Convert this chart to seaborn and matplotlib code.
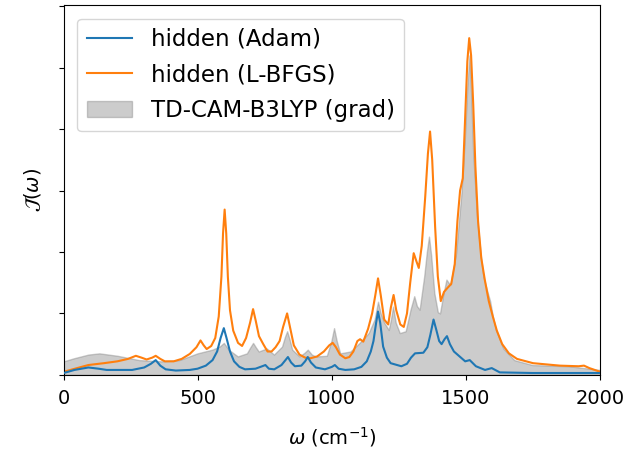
import numpy as np
import pandas as pd
import matplotlib
matplotlib.use("Agg")
import matplotlib.pyplot as plt
import seaborn as sns

# --- data (x in cm^-1, y in tick units) ---
adam_x = [0, 40, 92, 130, 160, 255, 300, 325, 343, 360, 380, 418, 470, 499, 530, 555, 572, 585, 597,
          607, 620, 635, 655, 676, 715, 740, 752, 765, 785, 812, 825, 836, 848, 862, 886, 900, 910,
          922, 940, 974, 1000, 1011, 1025, 1050, 1083, 1110, 1130, 1145, 1155, 1165, 1172, 1180, 1191,
          1205, 1219, 1259, 1280, 1295, 1310, 1341, 1356, 1367, 1379, 1390, 1400, 1409, 1420, 1429,
          1440, 1455, 1476, 1497, 1514, 1537, 1571, 1596, 1626, 1748, 2000]
adam_y = [0.03, 0.08, 0.12, 0.10, 0.08, 0.08, 0.12, 0.18, 0.24, 0.15, 0.09, 0.07, 0.08, 0.10, 0.15, 0.24, 0.38, 0.60, 0.76,
          0.60, 0.38, 0.22, 0.13, 0.09, 0.10, 0.14, 0.16, 0.10, 0.09, 0.16, 0.23, 0.29, 0.20, 0.14, 0.15, 0.22, 0.29,
          0.20, 0.12, 0.09, 0.13, 0.16, 0.10, 0.08, 0.09, 0.13, 0.22, 0.38, 0.55, 0.85, 1.03, 0.85, 0.46,
          0.28, 0.19, 0.14, 0.18, 0.28, 0.35, 0.36, 0.45, 0.65, 0.90, 0.72, 0.55, 0.50, 0.58, 0.63,
          0.50, 0.38, 0.30, 0.22, 0.24, 0.14, 0.08, 0.11, 0.04, 0.03, 0.03]

lbfgs_x = [0, 50, 92, 150, 200, 240, 269, 290, 309, 330, 343, 360, 377, 410, 440, 470, 495, 510, 522,
           533, 550, 565, 578, 588, 594, 600, 606, 612, 620, 632, 650, 665, 680, 695, 706, 716, 728,
           744, 760, 775, 790, 805, 818, 833, 845, 858, 879, 900, 920, 945, 970, 990, 1003, 1015,
           1030, 1050, 1065, 1080, 1095, 1105, 1117, 1135, 1150, 1162, 1172, 1182, 1195, 1210, 1220,
           1230, 1240, 1255, 1268, 1280, 1292, 1305, 1315, 1324, 1335, 1348, 1358, 1366, 1374, 1385,
           1395, 1406, 1418, 1432, 1445, 1458, 1468, 1478, 1488, 1497, 1505, 1512, 1519, 1527, 1535,
           1545, 1557, 1570, 1585, 1600, 1615, 1635, 1660, 1690, 1750, 1850, 1920, 1940, 1960, 2000]
lbfgs_y = [0.05, 0.11, 0.16, 0.19, 0.22, 0.26, 0.31, 0.28, 0.25, 0.28, 0.31, 0.26, 0.22, 0.22, 0.26, 0.34, 0.45, 0.56, 0.48,
           0.42, 0.47, 0.60, 0.95, 1.60, 2.30, 2.69, 2.30, 1.60, 1.05, 0.72, 0.52, 0.47, 0.60, 0.85, 1.07, 0.88, 0.63,
           0.50, 0.38, 0.38, 0.45, 0.55, 0.78, 1.00, 0.75, 0.48, 0.33, 0.28, 0.27, 0.30, 0.38, 0.48, 0.52, 0.45,
           0.33, 0.27, 0.29, 0.38, 0.55, 0.58, 0.54, 0.75, 1.00, 1.30, 1.57, 1.30, 0.90, 0.82, 1.10,
           1.30, 1.05, 0.82, 0.78, 1.00, 1.50, 1.98, 1.85, 1.74, 2.10, 2.90, 3.60, 3.96, 3.50, 2.40,
           1.60, 1.20, 1.35, 1.42, 1.48, 1.80, 2.50, 3.00, 3.20, 4.20, 5.10, 5.48, 5.20, 4.40, 3.40,
           2.50, 1.90, 1.55, 1.20, 0.95, 0.72, 0.50, 0.35, 0.26, 0.19, 0.15, 0.14, 0.15, 0.11, 0.05]

ref_x = [0, 38, 92, 133, 201, 282, 364, 431, 499, 554, 581, 597, 615, 649, 683, 696, 706, 716, 727,
         757, 784, 814, 825, 833, 842, 852, 879, 898, 910, 925, 940, 981, 998, 1008, 1018, 1031, 1069,
         1103, 1137, 1159, 1172, 1182, 1195, 1212, 1220, 1228, 1238, 1253, 1275, 1293, 1307, 1317,
         1327, 1344, 1354, 1362, 1370, 1382, 1395, 1403, 1415, 1427, 1435, 1442, 1463, 1483, 1495,
         1505, 1513, 1519, 1527, 1541, 1555, 1565, 1580, 1590, 1600, 1612, 1639, 1680, 1748, 1883, 2000]
ref_y = [0.22, 0.27, 0.33, 0.35, 0.31, 0.24, 0.22, 0.24, 0.35, 0.41, 0.46, 0.52, 0.41, 0.30, 0.35, 0.45, 0.52, 0.45, 0.38,
         0.43, 0.33, 0.46, 0.62, 0.71, 0.58, 0.41, 0.30, 0.36, 0.41, 0.33, 0.30, 0.31, 0.55, 0.76, 0.55, 0.35, 0.38,
         0.52, 0.68, 0.90, 1.19, 1.00, 0.85, 0.73, 0.90, 1.11, 0.85, 0.68, 0.71, 1.06, 1.28, 1.12,
         1.06, 1.60, 2.00, 2.25, 1.95, 1.33, 1.02, 1.00, 1.30, 1.55, 1.50, 1.47, 1.98, 2.96, 3.80,
         4.70, 5.20, 4.60, 3.60, 2.58, 1.95, 1.60, 1.35, 1.20, 0.95, 0.73, 0.43, 0.24, 0.16, 0.14, 0.08]

x_ticks = [0, 500, 1000, 1500, 2000]
y_ticks = [0, 1, 2, 3, 4, 5, 6]

plt.rcParams["font.size"] = 14
fig = plt.figure(figsize=(6.31, 4.5), dpi=100)
ax = fig.add_axes([0.101, 0.167, 0.850, 0.822])

df_adam = pd.DataFrame({"w": adam_x, "J": adam_y})
df_lbfgs = pd.DataFrame({"w": lbfgs_x, "J": lbfgs_y})

ax.fill_between(ref_x, ref_y, 0, color="gray", alpha=0.4, label="TD-CAM-B3LYP (grad)", zorder=1)
sns.lineplot(data=df_adam, x="w", y="J", ax=ax, color="#1f77b4", lw=1.5, label="hidden (Adam)", zorder=3)
sns.lineplot(data=df_lbfgs, x="w", y="J", ax=ax, color="#ff7f0e", lw=1.5, label="hidden (L-BFGS)", zorder=2)

ax.set_xlim(0, 2000)
ax.set_ylim(0, 6.02)
ax.set_xticks(x_ticks)
ax.set_yticks(y_ticks)
ax.set_yticklabels([])
ax.tick_params(axis="x", pad=7)
ax.set_xlabel(r"$\omega$ (cm$^{-1}$)", labelpad=12)
ax.set_ylabel(r"$\mathcal{J}(\omega)$", labelpad=8)

h, l = ax.get_legend_handles_labels()
order = [l.index("hidden (Adam)"), l.index("hidden (L-BFGS)"), l.index("TD-CAM-B3LYP (grad)")]
ax.legend([h[i] for i in order], [l[i] for i in order], loc="upper left", fontsize=16.5,
          labelspacing=0.55, borderaxespad=0.6)

fig.savefig("out.png", dpi=100)
